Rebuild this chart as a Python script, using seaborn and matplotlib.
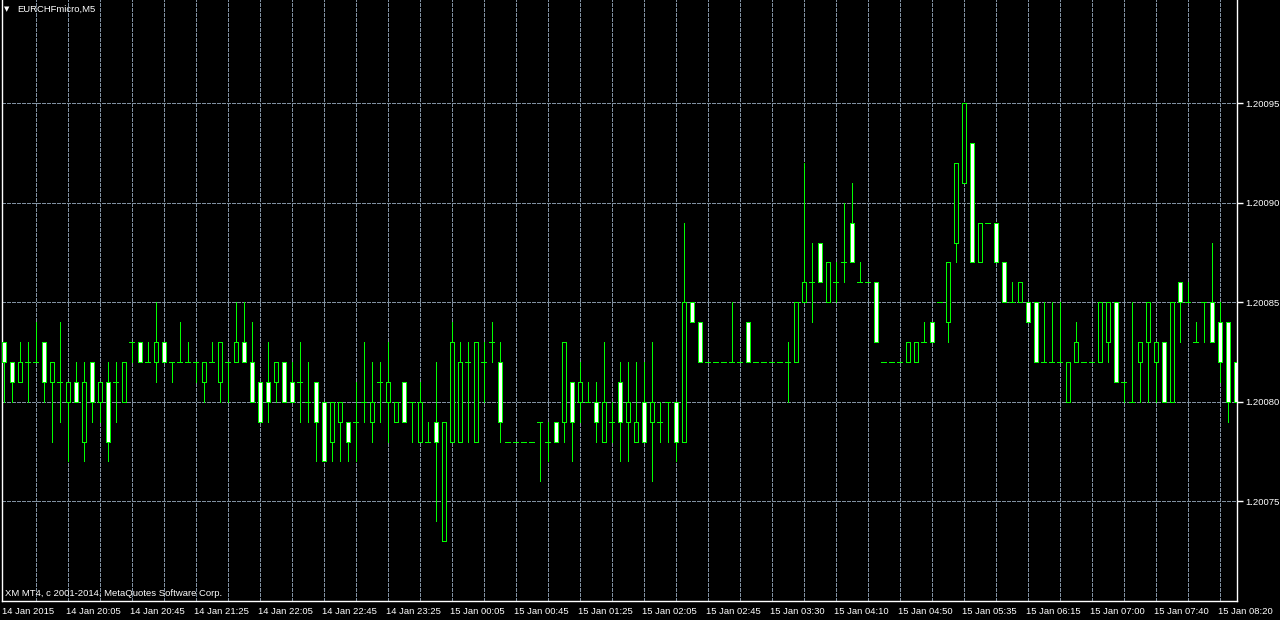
import matplotlib
matplotlib.use("Agg")
import matplotlib.pyplot as plt
import matplotlib.transforms as mtransforms
import numpy as np
import pandas as pd
import seaborn as sns

symbol_title = "EURCHFmicro,M5"
copyright_text = "XM MT4, c 2001-2014, MetaQuotes Software Corp."

opens = [1.20083, 1.20082, 1.20081, 1.20082, 1.20082, 1.20083, 1.20081, 1.20081, 1.20080, 1.20081,
         1.20078, 1.20082, 1.20080, 1.20081, 1.20081, 1.20080, 1.20083, 1.20083, 1.20082, 1.20082,
         1.20083, 1.20082, 1.20082, 1.20082, 1.20082, 1.20081, 1.20082, 1.20081, 1.20082, 1.20082,
         1.20083, 1.20082, 1.20081, 1.20081, 1.20081, 1.20082, 1.20081, 1.20081, 1.20080, 1.20081,
         1.20080, 1.20078, 1.20079, 1.20079, 1.20079, 1.20080, 1.20079, 1.20081, 1.20080, 1.20079,
         1.20081, 1.20080, 1.20078, 1.20078, 1.20079, 1.20073, 1.20078, 1.20078, 1.20082, 1.20078,
         1.20082, 1.20083, 1.20082, 1.20078, 1.20078, 1.20078, 1.20078, 1.20079, 1.20078, 1.20079,
         1.20079, 1.20081, 1.20080, 1.20080, 1.20080, 1.20078, 1.20079, 1.20081, 1.20079, 1.20078,
         1.20080, 1.20079, 1.20079, 1.20080, 1.20080, 1.20078, 1.20085, 1.20084, 1.20082, 1.20082,
         1.20082, 1.20082, 1.20082, 1.20084, 1.20082, 1.20082, 1.20082, 1.20082, 1.20082, 1.20082,
         1.20085, 1.20086, 1.20088, 1.20085, 1.20086, 1.20087, 1.20089, 1.20086, 1.20086, 1.20086,
         1.20082, 1.20082, 1.20082, 1.20082, 1.20082, 1.20083, 1.20084, 1.20085, 1.20084, 1.20088,
         1.20091, 1.20093, 1.20087, 1.20089, 1.20089, 1.20087, 1.20085, 1.20085, 1.20085, 1.20085,
         1.20082, 1.20082, 1.20082, 1.20080, 1.20082, 1.20082, 1.20082, 1.20082, 1.20083, 1.20085,
         1.20081, 1.20080, 1.20082, 1.20083, 1.20082, 1.20083, 1.20080, 1.20086, 1.20085, 1.20083,
         1.20085, 1.20085, 1.20084, 1.20084, 1.20082]

highs = [1.20083, 1.20082, 1.20083, 1.20083, 1.20084, 1.20083, 1.20082, 1.20084, 1.20081, 1.20082,
         1.20082, 1.20082, 1.20081, 1.20082, 1.20082, 1.20082, 1.20083, 1.20083, 1.20083, 1.20085,
         1.20083, 1.20082, 1.20084, 1.20083, 1.20082, 1.20082, 1.20083, 1.20083, 1.20082, 1.20085,
         1.20085, 1.20084, 1.20081, 1.20083, 1.20082, 1.20082, 1.20082, 1.20083, 1.20082, 1.20081,
         1.20080, 1.20080, 1.20080, 1.20079, 1.20081, 1.20083, 1.20082, 1.20082, 1.20083, 1.20080,
         1.20081, 1.20080, 1.20081, 1.20079, 1.20082, 1.20079, 1.20084, 1.20083, 1.20083, 1.20083,
         1.20083, 1.20084, 1.20083, 1.20078, 1.20078, 1.20078, 1.20078, 1.20079, 1.20079, 1.20079,
         1.20083, 1.20081, 1.20082, 1.20081, 1.20081, 1.20083, 1.20080, 1.20082, 1.20082, 1.20082,
         1.20082, 1.20083, 1.20080, 1.20080, 1.20080, 1.20089, 1.20085, 1.20084, 1.20082, 1.20082,
         1.20082, 1.20085, 1.20082, 1.20084, 1.20082, 1.20082, 1.20082, 1.20082, 1.20083, 1.20085,
         1.20092, 1.20088, 1.20088, 1.20087, 1.20087, 1.20090, 1.20091, 1.20087, 1.20086, 1.20086,
         1.20082, 1.20082, 1.20082, 1.20083, 1.20083, 1.20084, 1.20084, 1.20085, 1.20087, 1.20092,
         1.20095, 1.20093, 1.20089, 1.20089, 1.20089, 1.20087, 1.20086, 1.20086, 1.20085, 1.20085,
         1.20085, 1.20085, 1.20085, 1.20082, 1.20084, 1.20082, 1.20082, 1.20085, 1.20085, 1.20085,
         1.20081, 1.20085, 1.20083, 1.20085, 1.20083, 1.20083, 1.20085, 1.20086, 1.20086, 1.20084,
         1.20085, 1.20088, 1.20085, 1.20084, 1.20082]

lows = [1.20080, 1.20080, 1.20081, 1.20080, 1.20082, 1.20080, 1.20078, 1.20079, 1.20077, 1.20080,
        1.20077, 1.20079, 1.20079, 1.20077, 1.20079, 1.20080, 1.20082, 1.20082, 1.20082, 1.20081,
        1.20082, 1.20081, 1.20082, 1.20082, 1.20081, 1.20080, 1.20082, 1.20080, 1.20080, 1.20082,
        1.20082, 1.20080, 1.20079, 1.20079, 1.20080, 1.20080, 1.20080, 1.20079, 1.20079, 1.20077,
        1.20077, 1.20077, 1.20077, 1.20077, 1.20077, 1.20079, 1.20078, 1.20079, 1.20078, 1.20079,
        1.20079, 1.20078, 1.20078, 1.20078, 1.20074, 1.20073, 1.20078, 1.20078, 1.20078, 1.20078,
        1.20080, 1.20082, 1.20078, 1.20078, 1.20078, 1.20078, 1.20078, 1.20076, 1.20077, 1.20078,
        1.20078, 1.20077, 1.20079, 1.20080, 1.20078, 1.20078, 1.20078, 1.20077, 1.20077, 1.20078,
        1.20078, 1.20076, 1.20078, 1.20078, 1.20077, 1.20078, 1.20084, 1.20082, 1.20082, 1.20082,
        1.20082, 1.20082, 1.20082, 1.20082, 1.20082, 1.20082, 1.20082, 1.20082, 1.20080, 1.20082,
        1.20085, 1.20084, 1.20086, 1.20085, 1.20085, 1.20086, 1.20087, 1.20086, 1.20086, 1.20083,
        1.20082, 1.20082, 1.20082, 1.20082, 1.20082, 1.20083, 1.20083, 1.20085, 1.20083, 1.20087,
        1.20091, 1.20087, 1.20087, 1.20089, 1.20087, 1.20085, 1.20085, 1.20085, 1.20084, 1.20082,
        1.20082, 1.20082, 1.20082, 1.20080, 1.20082, 1.20082, 1.20082, 1.20082, 1.20082, 1.20081,
        1.20080, 1.20080, 1.20080, 1.20080, 1.20080, 1.20080, 1.20080, 1.20083, 1.20085, 1.20083,
        1.20083, 1.20083, 1.20081, 1.20079, 1.20080]

closes = [1.20082, 1.20081, 1.20082, 1.20082, 1.20082, 1.20081, 1.20082, 1.20081, 1.20081, 1.20080,
          1.20081, 1.20080, 1.20081, 1.20078, 1.20081, 1.20082, 1.20083, 1.20082, 1.20082, 1.20083,
          1.20082, 1.20082, 1.20082, 1.20082, 1.20082, 1.20082, 1.20082, 1.20083, 1.20082, 1.20083,
          1.20082, 1.20080, 1.20079, 1.20080, 1.20082, 1.20080, 1.20080, 1.20081, 1.20080, 1.20079,
          1.20077, 1.20080, 1.20080, 1.20078, 1.20079, 1.20080, 1.20080, 1.20081, 1.20081, 1.20080,
          1.20079, 1.20080, 1.20080, 1.20078, 1.20078, 1.20079, 1.20083, 1.20082, 1.20082, 1.20083,
          1.20082, 1.20083, 1.20079, 1.20078, 1.20078, 1.20078, 1.20078, 1.20079, 1.20078, 1.20078,
          1.20083, 1.20079, 1.20081, 1.20080, 1.20079, 1.20080, 1.20079, 1.20079, 1.20080, 1.20079,
          1.20078, 1.20080, 1.20079, 1.20080, 1.20078, 1.20085, 1.20084, 1.20082, 1.20082, 1.20082,
          1.20082, 1.20082, 1.20082, 1.20082, 1.20082, 1.20082, 1.20082, 1.20082, 1.20082, 1.20085,
          1.20086, 1.20086, 1.20086, 1.20087, 1.20086, 1.20087, 1.20087, 1.20086, 1.20086, 1.20083,
          1.20082, 1.20082, 1.20082, 1.20083, 1.20083, 1.20083, 1.20083, 1.20085, 1.20087, 1.20092,
          1.20095, 1.20087, 1.20089, 1.20089, 1.20087, 1.20085, 1.20085, 1.20086, 1.20084, 1.20082,
          1.20082, 1.20082, 1.20082, 1.20082, 1.20083, 1.20082, 1.20082, 1.20085, 1.20085, 1.20081,
          1.20081, 1.20080, 1.20083, 1.20085, 1.20083, 1.20080, 1.20085, 1.20085, 1.20085, 1.20083,
          1.20085, 1.20083, 1.20082, 1.20080, 1.20080]

time_labels = ["14 Jan 2015", "14 Jan 20:05", "14 Jan 20:45", "14 Jan 21:25", "14 Jan 22:05",
               "14 Jan 22:45", "14 Jan 23:25", "15 Jan 00:05", "15 Jan 00:45", "15 Jan 01:25",
               "15 Jan 02:05", "15 Jan 02:45", "15 Jan 03:30", "15 Jan 04:10", "15 Jan 04:50",
               "15 Jan 05:35", "15 Jan 06:15", "15 Jan 07:00", "15 Jan 07:40", "15 Jan 08:20"]
time_label_bars = [0, 8, 16, 24, 32, 40, 48, 56, 64, 72, 80, 88, 96, 104, 112, 120, 128, 136, 144, 152]
price_levels = [1.20075, 1.20080, 1.20085, 1.20090, 1.20095]

GREEN = "#00ff00"
GRID = "#8090a0"

sns.set_theme(style="dark", rc={"axes.facecolor": "black", "figure.facecolor": "black",
                                "axes.edgecolor": "white", "text.color": "white",
                                "xtick.color": "white", "ytick.color": "white",
                                "lines.scale_dashes": True})
plt.rcParams['font.family'] = ['Liberation Sans', 'DejaVu Sans']

df = pd.DataFrame({"bar": np.arange(len(opens)), "open": opens, "high": highs,
                   "low": lows, "close": closes})
df["bear"] = df["close"] < df["open"]
df["flat"] = df["close"] == df["open"]

fig = plt.figure(figsize=(12.8, 6.2), dpi=100, facecolor="black")
ax = fig.add_axes([2 / 1280, 19 / 620, 1235 / 1280, 601 / 620])
ax.set_facecolor("black")

LW = 0.72  # 1 px

# grid
for lv in price_levels:
    ax.axhline(lv, color=GRID, lw=LW, ls=(0, (4, 2)), zorder=1, antialiased=False)
for gx in range(4, len(opens), 4):
    ax.axvline(gx, color=GRID, lw=LW, ls=(0, (4, 2)), zorder=1, antialiased=False)

# wicks
ax.vlines(df["bar"], df["low"], df["high"], color=GREEN, lw=LW, zorder=2, antialiased=False)

# bodies
body = df[~df["flat"]]
bottoms = np.minimum(body["open"], body["close"])
heights = np.abs(body["close"] - body["open"])
fills = np.where(body["bear"], "white", "black")
bars = ax.bar(body["bar"], heights, bottom=bottoms, width=0.5, color=fills,
              edgecolor=GREEN, linewidth=LW, zorder=3)
for p in bars:
    p.set_antialiased(False)

# doji dashes
flat = df[df["flat"]]
ax.hlines(flat["close"], flat["bar"] - 0.3, flat["bar"] + 0.3, color=GREEN, lw=LW,
          zorder=3, antialiased=False)

ax.set_xlim(-0.1875, 154.1875)
ax.set_ylim(1.2006999, 1.2010019)

ax.yaxis.tick_right()
ax.set_yticks(price_levels)
ax.set_yticklabels([f"{v:.5f}" for v in price_levels])
ax.tick_params(axis="y", colors="white", length=4, width=1, direction="out", labelsize=6.8, pad=2)
ax.set_xticks(time_label_bars)
ax.set_xticklabels(time_labels)
ax.tick_params(axis="x", colors="white", length=3, width=1, direction="out", labelsize=6.8, pad=1)
offset = mtransforms.ScaledTranslation(-2 / 100, 0, fig.dpi_scale_trans)
for lab in ax.get_xticklabels():
    lab.set_horizontalalignment("left")
    lab.set_transform(lab.get_transform() + offset)

ax.grid(False)
for side in ["left", "right", "bottom"]:
    ax.spines[side].set_color("white")
    ax.spines[side].set_linewidth(1)
ax.spines["top"].set_visible(False)

fig.text(4 / 1280, 1 - 9 / 620, "\u25bc", color="white", fontsize=5, va="center", ha="left",
         family=["DejaVu Sans"])
fig.text(17 / 1280, 1 - 9 / 620, symbol_title, color="white", fontsize=6.8, va="center", ha="left")
fig.text(5 / 1280, 1 - 593 / 620, copyright_text, color="white", fontsize=6.8, va="center", ha="left")

fig.savefig("out.png", dpi=100, facecolor="black")
